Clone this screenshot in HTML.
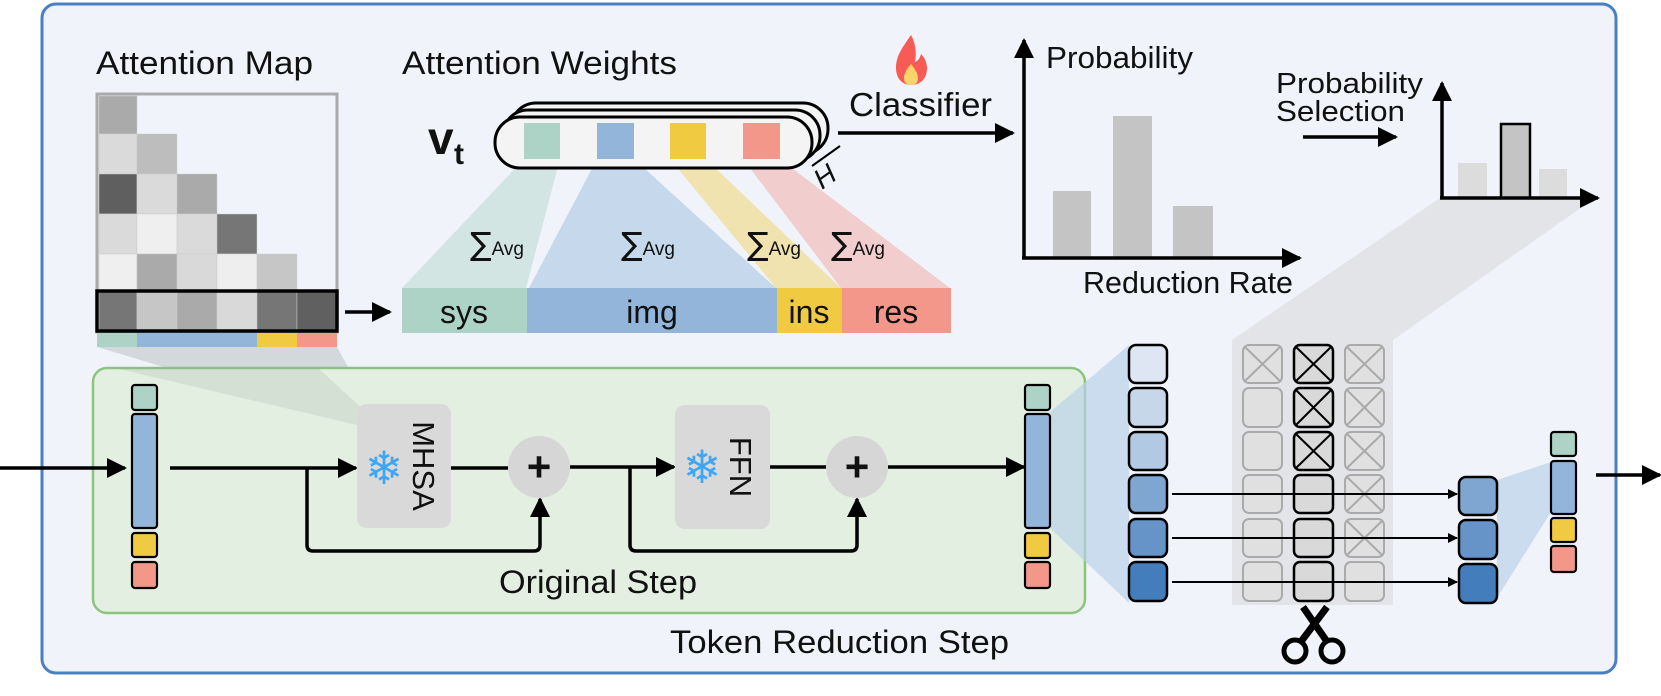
<!DOCTYPE html>
<html><head><meta charset="utf-8"><style>
html,body{margin:0;padding:0;background:#fff;}
svg{display:block;}
text{font-family:"Liberation Sans",sans-serif;fill:#111;}
</style></head><body>
<svg width="1661" height="696" viewBox="0 0 1661 696" xmlns="http://www.w3.org/2000/svg">
<defs>
<marker id="ah" markerWidth="10" markerHeight="10" refX="9" refY="5" orient="auto" markerUnits="userSpaceOnUse" viewBox="0 0 10 10"><path d="M0,0 L10,5 L0,10 z" fill="#000"/></marker>
<marker id="ahb" markerWidth="20" markerHeight="20" refX="18" refY="10" orient="auto" markerUnits="userSpaceOnUse" viewBox="0 0 20 20"><path d="M0,0 L20,10 L0,20 z" fill="#000"/></marker>
</defs>
<rect x="42" y="4" width="1574" height="669" rx="14" fill="#f0f4fa" stroke="#4a7fc1" stroke-width="3"/>

<polygon points="1232,340 1440,198 1595,198 1393,340" fill="#e3e4e8"/>
<rect x="1232" y="340" width="161" height="265" fill="#e3e4e8"/>

<text x="96" y="74" font-size="32" textLength="217" lengthAdjust="spacingAndGlyphs">Attention Map</text>
<rect x="97" y="94" width="240" height="238" fill="#f0f4fa" stroke="#aaa" stroke-width="3"/>
<g stroke="#ccc" stroke-width="0.5">
<rect x="99" y="96" width="38" height="38" fill="#aaa"/>
<rect x="99" y="134" width="38" height="40" fill="#dadada"/><rect x="137" y="134" width="40" height="40" fill="#bdbdbd"/>
<rect x="99" y="174" width="38" height="40" fill="#5f5f5f"/><rect x="137" y="174" width="40" height="40" fill="#dadada"/><rect x="177" y="174" width="40" height="40" fill="#aaa"/>
<rect x="99" y="214" width="38" height="40" fill="#dadada"/><rect x="137" y="214" width="40" height="40" fill="#efefef"/><rect x="177" y="214" width="40" height="40" fill="#dadada"/><rect x="217" y="214" width="40" height="40" fill="#767676"/>
<rect x="99" y="254" width="38" height="38" fill="#efefef"/><rect x="137" y="254" width="40" height="38" fill="#aaa"/><rect x="177" y="254" width="40" height="38" fill="#d9d9d9"/><rect x="217" y="254" width="40" height="38" fill="#eee"/><rect x="257" y="254" width="40" height="38" fill="#c6c6c6"/>
<rect x="99" y="292" width="38" height="38" fill="#767676"/><rect x="137" y="292" width="40" height="38" fill="#c6c6c6"/><rect x="177" y="292" width="40" height="38" fill="#aaa"/><rect x="217" y="292" width="40" height="38" fill="#d9d9d9"/><rect x="257" y="292" width="40" height="38" fill="#767676"/><rect x="297" y="292" width="39" height="38" fill="#606060"/>
</g>
<rect x="97" y="291" width="240" height="40" fill="none" stroke="#000" stroke-width="3.5"/>
<rect x="97" y="333" width="40" height="14" fill="#acd3c6"/>
<rect x="137" y="333" width="120" height="14" fill="#93b5d9"/>
<rect x="257" y="333" width="40" height="14" fill="#f0cb42"/>
<rect x="297" y="333" width="40" height="14" fill="#f2978a"/>
<line x1="345" y1="312" x2="390" y2="312" stroke="#000" stroke-width="3.5" marker-end="url(#ahb)"/>

<polygon points="97,347 337,347 380,425 357,425" fill="#9aa3a0" opacity="0.35"/>

<text x="402" y="74" font-size="32" textLength="275" lengthAdjust="spacingAndGlyphs">Attention Weights</text>
<polygon points="524,159 560,159 526,288 402,288" fill="#acd3c6" opacity="0.45"/>
<polygon points="597,159 634,159 776,288 529,288" fill="#93b5d9" opacity="0.45"/>
<polygon points="670,159 706,159 841,288 776,288" fill="#f0cb42" opacity="0.4"/>
<polygon points="743,159 780,159 950,288 841,288" fill="#f2978a" opacity="0.4"/>
<rect x="511" y="103" width="317" height="51" rx="25" fill="#f4f4f4" stroke="#000" stroke-width="3"/>
<rect x="503" y="110" width="317" height="51" rx="25" fill="#f4f4f4" stroke="#000" stroke-width="3"/>
<rect x="495" y="117" width="317" height="51" rx="25" fill="#f4f4f4" stroke="#000" stroke-width="3"/>
<rect x="524" y="123" width="36" height="36" fill="#acd3c6"/>
<rect x="597" y="123" width="37" height="36" fill="#93b5d9"/>
<rect x="670" y="123" width="36" height="36" fill="#f0cb42"/>
<rect x="743" y="123" width="37" height="36" fill="#f2978a"/>
<text x="428" y="154" font-family="Liberation Serif,serif" font-weight="bold" font-size="46">v</text>
<text x="454" y="164" font-family="Liberation Serif,serif" font-weight="bold" font-size="30">t</text>
<line x1="812" y1="166" x2="840" y2="146" stroke="#000" stroke-width="2"/>
<text x="0" y="0" font-family="Liberation Serif,serif" font-style="italic" font-size="28" transform="translate(822,190) rotate(-35)">H</text>
<g font-size="19">
<text x="470" y="255"><tspan font-size="32" font-family="DejaVu Sans,sans-serif">∑</tspan>Avg</text>
<text x="621" y="255"><tspan font-size="32" font-family="DejaVu Sans,sans-serif">∑</tspan>Avg</text>
<text x="747" y="255"><tspan font-size="32" font-family="DejaVu Sans,sans-serif">∑</tspan>Avg</text>
<text x="831" y="255"><tspan font-size="32" font-family="DejaVu Sans,sans-serif">∑</tspan>Avg</text>
</g>
<rect x="402" y="288" width="125" height="45" fill="#acd3c6"/>
<rect x="527" y="288" width="250" height="45" fill="#93b5d9"/>
<rect x="777" y="288" width="65" height="45" fill="#f0cb42"/>
<rect x="842" y="288" width="109" height="45" fill="#f2978a"/>
<g font-size="32" text-anchor="middle">
<text x="464" y="323">sys</text><text x="652" y="323">img</text><text x="809" y="323">ins</text><text x="896" y="323">res</text>
</g>

<path d="M911,35 C902,48 896,56 896,68 C896,79 903,85 911,85 C920,85 927,79 927,68 C927,62 924,57 921,54 C920,58 918,61 915,62 C917,52 915,42 911,35 z" fill="#f85a55"/>
<path d="M911,64 C906,70 904,74 904,78 C904,83 907,85 911,85 C915,85 918,83 918,78 C918,73 914,68 911,64 z" fill="#fdd46a"/>
<text x="849" y="116" font-size="33" textLength="143" lengthAdjust="spacingAndGlyphs">Classifier</text>
<line x1="838" y1="133" x2="1013" y2="133" stroke="#000" stroke-width="3.5" marker-end="url(#ahb)"/>

<rect x="1053" y="191" width="38" height="67" fill="#c4c4c4"/>
<rect x="1113" y="116" width="39" height="142" fill="#c4c4c4"/>
<rect x="1173" y="206" width="40" height="52" fill="#c4c4c4"/>
<line x1="1024" y1="259" x2="1024" y2="40" stroke="#000" stroke-width="3.5" marker-end="url(#ahb)"/>
<line x1="1022" y1="258" x2="1300" y2="258" stroke="#000" stroke-width="3.5" marker-end="url(#ahb)"/>
<text x="1046" y="68" font-size="31" textLength="147" lengthAdjust="spacingAndGlyphs">Probability</text>
<text x="1083" y="293" font-size="31" textLength="210" lengthAdjust="spacingAndGlyphs">Reduction Rate</text>

<text x="1276" y="93" font-size="29" textLength="147" lengthAdjust="spacingAndGlyphs">Probability</text>
<text x="1276" y="121" font-size="29" textLength="129" lengthAdjust="spacingAndGlyphs">Selection</text>
<line x1="1303" y1="137" x2="1396" y2="137" stroke="#000" stroke-width="3.5" marker-end="url(#ahb)"/>
<rect x="1458" y="163" width="29" height="35" fill="#dcdcdc"/>
<rect x="1501" y="124" width="29" height="74" fill="#c4c4c4" stroke="#000" stroke-width="2.5"/>
<rect x="1539" y="169" width="28" height="29" fill="#dcdcdc"/>
<line x1="1442" y1="199" x2="1442" y2="83" stroke="#000" stroke-width="3.5" marker-end="url(#ahb)"/>
<line x1="1440" y1="198" x2="1598" y2="198" stroke="#000" stroke-width="3.5" marker-end="url(#ahb)"/>

<rect x="93" y="368" width="992" height="245" rx="14" fill="#e3efe1" stroke="#8cc47f" stroke-width="2.5"/>
<polygon points="115,368 318,368 380,425 357,425" fill="#9aa3a0" opacity="0.2"/>
<line x1="0" y1="468" x2="125" y2="468" stroke="#000" stroke-width="3.5" marker-end="url(#ahb)"/>
<g stroke="#000" stroke-width="2.2">
<rect x="132" y="385" width="25" height="25" rx="3" fill="#acd3c6"/>
<rect x="132" y="414" width="25" height="114" rx="3" fill="#93b5d9"/>
<rect x="132" y="533" width="25" height="24" rx="3" fill="#f0cb42"/>
<rect x="132" y="562" width="25" height="26" rx="3" fill="#f2978a"/>
</g>
<line x1="170" y1="468" x2="356" y2="468" stroke="#000" stroke-width="3.5" marker-end="url(#ahb)"/>
<path d="M307,468 V545 Q307,551 313,551 H534 Q540,551 540,545 V499" fill="none" stroke="#000" stroke-width="3.5" marker-end="url(#ahb)"/>
<rect x="357" y="404" width="94" height="124" rx="10" fill="#d9d9d9"/>
<text x="384" y="484" font-size="46" text-anchor="middle" style="fill:#3ea6f5" font-family="DejaVu Sans,sans-serif">❄</text>
<text x="0" y="0" font-size="31" text-anchor="middle" transform="translate(413,466) rotate(90)">MHSA</text>
<line x1="451" y1="468" x2="508" y2="468" stroke="#000" stroke-width="3.5"/>
<circle cx="539" cy="467" r="31" fill="#d6d6d6"/>
<text x="539" y="481" font-size="42" font-weight="bold" text-anchor="middle">+</text>
<line x1="570" y1="467" x2="674" y2="467" stroke="#000" stroke-width="3.5" marker-end="url(#ahb)"/>
<path d="M630,467 V545 Q630,551 636,551 H851 Q857,551 857,545 V499" fill="none" stroke="#000" stroke-width="3.5" marker-end="url(#ahb)"/>
<rect x="675" y="405" width="95" height="124" rx="10" fill="#d9d9d9"/>
<text x="702" y="483" font-size="46" text-anchor="middle" style="fill:#3ea6f5" font-family="DejaVu Sans,sans-serif">❄</text>
<text x="0" y="0" font-size="31" text-anchor="middle" transform="translate(730,467) rotate(90)">FFN</text>
<line x1="770" y1="467" x2="826" y2="467" stroke="#000" stroke-width="3.5"/>
<circle cx="857" cy="467" r="31" fill="#d6d6d6"/>
<text x="857" y="481" font-size="42" font-weight="bold" text-anchor="middle">+</text>
<line x1="888" y1="467" x2="1024" y2="467" stroke="#000" stroke-width="3.5" marker-end="url(#ahb)"/>
<text x="499" y="593" font-size="32" textLength="198" lengthAdjust="spacingAndGlyphs">Original Step</text>
<text x="670" y="653" font-size="32" textLength="339" lengthAdjust="spacingAndGlyphs">Token Reduction Step</text>

<polygon points="1050,412 1129,345 1129,603 1050,528" fill="#b7cfe8" opacity="0.65"/>
<g stroke="#000" stroke-width="2.2">
<rect x="1025" y="385" width="25" height="25" rx="3" fill="#acd3c6"/>
<rect x="1025" y="414" width="25" height="114" rx="3" fill="#93b5d9"/>
<rect x="1025" y="533" width="25" height="25" rx="3" fill="#f0cb42"/>
<rect x="1025" y="562" width="25" height="26" rx="3" fill="#f2978a"/>
</g>

<g stroke-width="2">
<g fill="#e0e0e0" stroke="#aaa">
<rect x="1243" y="345" width="39" height="38" rx="6"/><rect x="1243" y="388" width="39" height="39" rx="6"/><rect x="1243" y="432" width="39" height="38" rx="6"/><rect x="1243" y="475" width="39" height="38" rx="6"/><rect x="1243" y="519" width="39" height="38" rx="6"/><rect x="1243" y="562" width="39" height="39" rx="6"/>
<rect x="1345" y="345" width="39" height="38" rx="6"/><rect x="1345" y="388" width="39" height="39" rx="6"/><rect x="1345" y="432" width="39" height="38" rx="6"/><rect x="1345" y="475" width="39" height="38" rx="6"/><rect x="1345" y="519" width="39" height="38" rx="6"/><rect x="1345" y="562" width="39" height="39" rx="6"/>
<path d="M1245,347 L1280,381 M1280,347 L1245,381 M1347,347 L1382,381 M1382,347 L1347,381 M1347,390 L1382,425 M1382,390 L1347,425 M1347,434 L1382,468 M1382,434 L1347,468 M1347,477 L1382,511 M1382,477 L1347,511 M1347,521 L1382,555 M1382,521 L1347,555" fill="none"/>
</g>
<g fill="#d9d9d9" stroke="#000" stroke-width="2.5">
<rect x="1294" y="345" width="39" height="38" rx="6"/><rect x="1294" y="388" width="39" height="39" rx="6"/><rect x="1294" y="432" width="39" height="38" rx="6"/><rect x="1294" y="475" width="39" height="38" rx="6"/><rect x="1294" y="519" width="39" height="38" rx="6"/><rect x="1294" y="562" width="39" height="39" rx="6"/>
<path d="M1296,347 L1331,381 M1331,347 L1296,381 M1296,390 L1331,425 M1331,390 L1296,425 M1296,434 L1331,468 M1331,434 L1296,468" fill="none" stroke-width="2"/>
</g>
</g>
<g stroke="#000" stroke-width="2.5">
<rect x="1129" y="345" width="38" height="38" rx="7" fill="#dde6f2"/>
<rect x="1129" y="388" width="38" height="39" rx="7" fill="#c7d7ea"/>
<rect x="1129" y="432" width="38" height="38" rx="7" fill="#b1c9e3"/>
<rect x="1129" y="475" width="38" height="38" rx="7" fill="#7ea6d1"/>
<rect x="1129" y="519" width="38" height="38" rx="7" fill="#6794c8"/>
<rect x="1129" y="562" width="38" height="39" rx="7" fill="#437dbb"/>
</g>
<g stroke="#000" stroke-width="2">
<line x1="1172" y1="494" x2="1457" y2="494" marker-end="url(#ah)"/>
<line x1="1172" y1="538" x2="1457" y2="538" marker-end="url(#ah)"/>
<line x1="1172" y1="582" x2="1457" y2="582" marker-end="url(#ah)"/>
</g>
<polygon points="1497,480 1551,462 1551,512 1497,598" fill="#b7cfe8" opacity="0.65"/>
<g stroke="#000" stroke-width="2.5">
<rect x="1459" y="477" width="38" height="38" rx="7" fill="#7ea6d1"/>
<rect x="1459" y="520" width="38" height="39" rx="7" fill="#6794c8"/>
<rect x="1459" y="564" width="38" height="39" rx="7" fill="#437dbb"/>
</g>
<g stroke="#000" stroke-width="2.2">
<rect x="1551" y="432" width="25" height="24" rx="3" fill="#acd3c6"/>
<rect x="1551" y="461" width="25" height="53" rx="3" fill="#93b5d9"/>
<rect x="1551" y="518" width="25" height="24" rx="3" fill="#f0cb42"/>
<rect x="1551" y="546" width="25" height="26" rx="3" fill="#f2978a"/>
</g>
<line x1="1596" y1="475" x2="1660" y2="475" stroke="#000" stroke-width="3.5" marker-end="url(#ahb)"/>

<g stroke="#000" fill="none">
<path d="M1303,607 L1328,643" stroke-width="7"/>
<path d="M1327,607 L1300,643" stroke-width="7"/>
<circle cx="1295" cy="651" r="11" stroke-width="5"/>
<circle cx="1332" cy="651" r="11" stroke-width="5"/>
</g>
</svg>
</body></html>
